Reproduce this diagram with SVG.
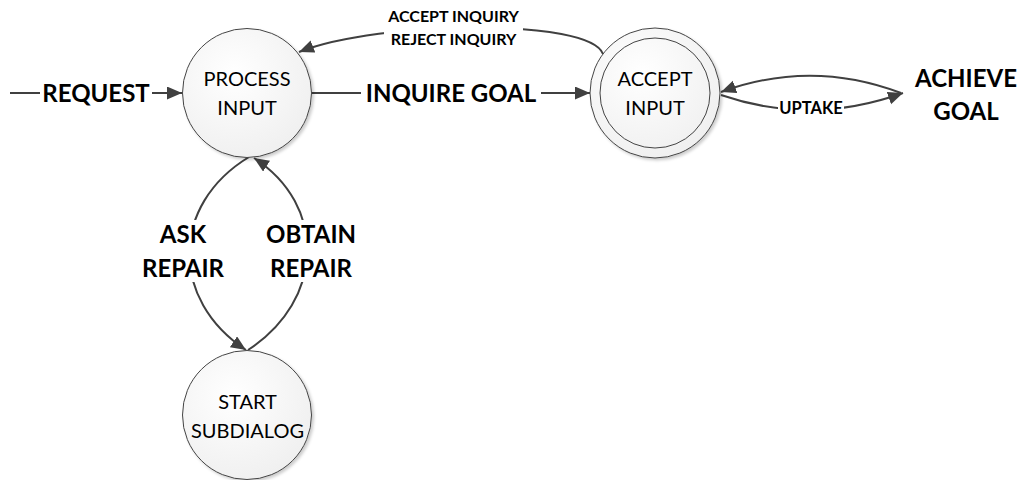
<svg xmlns="http://www.w3.org/2000/svg" width="1021" height="480" viewBox="0 0 1021 480">
  <defs>
    <radialGradient id="stateFill" cx="0.4" cy="0.35" r="0.75">
      <stop offset="0" stop-color="#ffffff"/>
      <stop offset="1" stop-color="#eeeeee"/>
    </radialGradient>
    <filter id="shadow" x="-20%" y="-20%" width="140%" height="140%">
      <feDropShadow dx="2" dy="2" stdDeviation="1.5" flood-color="#000" flood-opacity="0.2"/>
    </filter>
    <marker id="arrow" markerUnits="userSpaceOnUse" markerWidth="17" markerHeight="14" refX="15" refY="6.5" orient="auto">
      <path d="M0,0 L15,6.5 L0,13 z" fill="#404040"/>
    </marker>
    <style>
      .state { fill: url(#stateFill); stroke: #444; stroke-width: 1; filter: url(#shadow); }
      .ring { fill: none; stroke: #444; stroke-width: 1; }
      .stateText { font-family: Lato, "Liberation Sans", sans-serif; font-size: 20px; fill: #000; text-anchor: middle; }
      .edge { fill: none; stroke: #404040; stroke-width: 2; marker-end: url(#arrow); }
      .bg { fill: #ffffff; }
      .lblBig { font-family: Lato, "Liberation Sans", sans-serif; font-weight: bold; font-size: 24px; fill: #000; text-anchor: middle; }
      .lblSmall { font-family: Lato, "Liberation Sans", sans-serif; font-weight: bold; font-size: 16px; fill: #000; text-anchor: middle; }
      .lblTiny { font-family: Lato, "Liberation Sans", sans-serif; font-weight: bold; font-size: 16.5px; fill: #000; text-anchor: middle; }
    </style>
  </defs>

  <!-- connectors -->
  <g id="connectors">
    <!-- incoming request -->
    <path class="edge" d="M10,93 L182,93"/>
    <!-- process input -> accept input -->
    <path class="edge" d="M312,93 L590,93"/>
    <!-- accept input -> process input (accept / reject inquiry) -->
    <path class="edge" d="M603,54 C590,18 380,20 299,52"/>
    <!-- achieve goal -> accept input -->
    <path class="edge" d="M901,93 Q811,59 721,92"/>
    <!-- accept input -> achieve goal (uptake) -->
    <path class="edge" d="M721,95 Q811,126 903,93"/>
    <!-- process input -> start subdialog (ask repair) -->
    <path class="edge" d="M249,157 C170,205 170,300 246,350"/>
    <!-- start subdialog -> process input (obtain repair) -->
    <path class="edge" d="M248,350 C325,300 327,205 254,158"/>

    <!-- edge labels -->
    <rect class="bg" x="40" y="80" width="112" height="26"/>
    <text class="lblBig" x="96" y="101.5">REQUEST</text>

    <rect class="bg" x="361" y="80" width="180" height="26"/>
    <text class="lblBig" x="451" y="101.5">INQUIRE GOAL</text>

    <rect class="bg" x="384" y="7" width="139" height="42"/>
    <text class="lblSmall" x="453.5" y="22">ACCEPT INQUIRY</text>
    <text class="lblSmall" x="453.5" y="44.5">REJECT INQUIRY</text>

    <rect class="bg" x="778" y="100" width="66" height="18"/>
    <text class="lblTiny" x="811" y="114.3">UPTAKE</text>

    <rect class="bg" x="138" y="220" width="90" height="62"/>
    <text class="lblBig" x="183" y="243.3">ASK</text>
    <text class="lblBig" x="183" y="276.7">REPAIR</text>

    <rect class="bg" x="262" y="220" width="98" height="62"/>
    <text class="lblBig" x="311" y="243.3">OBTAIN</text>
    <text class="lblBig" x="311" y="276.7">REPAIR</text>
  </g>

  <!-- states -->
  <g id="process-input">
    <circle class="state" cx="247" cy="93" r="64.5"/>
    <text class="stateText" x="247" y="86">PROCESS</text>
    <text class="stateText" x="247" y="115">INPUT</text>
  </g>

  <g id="accept-input">
    <circle class="state" cx="655" cy="93" r="65"/>
    <circle class="ring" cx="655" cy="93" r="55"/>
    <text class="stateText" x="655" y="86">ACCEPT</text>
    <text class="stateText" x="655" y="115">INPUT</text>
  </g>

  <g id="start-subdialog">
    <circle class="state" cx="247" cy="415" r="64.5"/>
    <text class="stateText" x="247.5" y="409.3">START</text>
    <text class="stateText" x="247.5" y="437.7">SUBDIALOG</text>
  </g>

  <g id="achieve-goal">
    <text class="lblBig" x="966" y="86.7">ACHIEVE</text>
    <text class="lblBig" x="966" y="120">GOAL</text>
  </g>
</svg>
